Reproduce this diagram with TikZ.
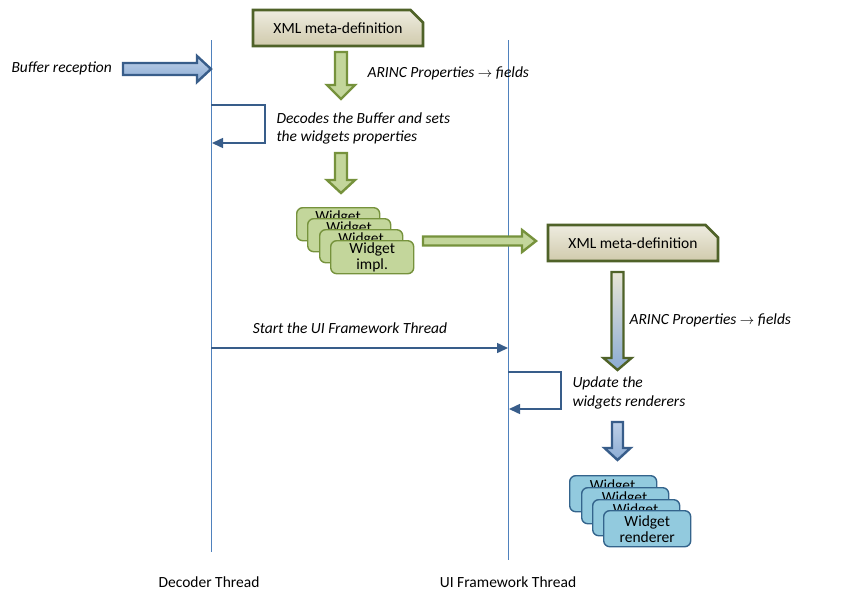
\documentclass[tikz,border=0pt]{standalone}
\usepackage{fontspec}
\setmainfont{Carlito}
\usetikzlibrary{arrows.meta,shapes.misc}
\definecolor{life}{RGB}{79,129,189}
\definecolor{dblue}{RGB}{56,93,138}
\definecolor{gfill}{RGB}{195,214,155}
\definecolor{gline}{RGB}{118,146,60}
\definecolor{xfillA}{RGB}{238,236,224}
\definecolor{xfillB}{RGB}{208,202,172}
\definecolor{xline}{RGB}{79,98,40}
\definecolor{bfillA}{RGB}{190,208,232}
\definecolor{bfillB}{RGB}{140,172,212}
\definecolor{rfill}{RGB}{146,202,222}
\definecolor{rline}{RGB}{52,100,140}
\newcommand\downblock[7]{\draw[#7] ({#1-#4},#2) -- ({#1+#4},#2) -- ({#1+#4},{#3-#6}) -- ({#1+#5},{#3-#6}) -- (#1,#3) -- ({#1-#5},{#3-#6}) -- ({#1-#4},{#3-#6}) -- cycle;}
\newcommand\rightblock[7]{\draw[#7] (#1,{#3-#4}) -- ({#2-#6},{#3-#4}) -- ({#2-#6},{#3-#5}) -- (#2,#3) -- ({#2-#6},{#3+#5}) -- ({#2-#6},{#3+#4}) -- (#1,{#3+#4}) -- cycle;}
\tikzset{
  every node/.style={font=\fontsize{15.5}{16}\selectfont},
  lifeline/.style={draw=life, line width=1pt},
  msg/.style={draw=dblue, line width=1.5pt, -{Triangle[length=11pt,width=10pt]}},
  lbl/.style={font=\fontsize{15.5}{16}\selectfont\itshape},
  xmlbox/.style={chamfered rectangle, chamfered rectangle corners=north east,
    chamfered rectangle xsep=7pt, chamfered rectangle ysep=7pt,
    draw=xline, line width=2.6pt, top color=xfillA, bottom color=xfillB,
    minimum width=170pt, minimum height=36pt, inner sep=0pt},
  garrow/.style={draw=gline, line width=2.4pt, fill=gfill, line join=miter},
  barrow/.style={draw=dblue, line width=2.4pt, top color=bfillA, bottom color=bfillB, line join=miter},
  mixarrow/.style={draw=xline, line width=2.4pt, top color=xfillA!80!xfillB, bottom color=bfillB, line join=miter},
  wbox/.style={draw=gline, line width=1.4pt, fill=gfill, rounded corners=6pt,
    minimum width=83pt, minimum height=33pt, anchor=north west, inner sep=0pt, align=center},
  rbox/.style={draw=rline, line width=1.4pt, fill=rfill, rounded corners=6pt,
    minimum width=87pt, minimum height=36pt, anchor=north west, inner sep=0pt, align=center},
}
\begin{document}
\begin{tikzpicture}[x=1pt,y=-1pt]
\useasboundingbox[fill=white] (0,0) rectangle (841,611);

% lifelines
\coordinate (d0) at (211,40);
\coordinate (d1) at (211,552);
\coordinate (u0) at (508,40);
\coordinate (u1) at (508,560);
\draw[lifeline] (d0) -- (d1);
\draw[lifeline] (u0) -- (u1);
\node (dlab) at (209,582) {Decoder Thread};
\node (ulab) at (508,582) {UI Framework Thread};

% top XML box
\node[xmlbox] (x1) at (338,28) {XML meta-definition};
\downblock{341}{52}{99}{6}{14}{14}{garrow}
\node[lbl, anchor=west] (ar1) at (364,73) {ARINC Properties $\rightarrow$ fields};

% buffer reception
\node[lbl, anchor=west] (buf) at (8,68) {Buffer reception};
\rightblock{123}{211}{69}{6}{13}{14}{barrow}

% self loop 1
\coordinate (l1a) at (211,105);
\coordinate (l1b) at (265,105);
\coordinate (l1c) at (265,143);
\coordinate (l1d) at (212,143);
\draw[msg] (l1a) -- (l1b) -- (l1c) -- (l1d);
\node[lbl, anchor=west] (dec1) at (273,118) {Decodes the Buffer and sets};
\node[lbl, anchor=west] (dec2) at (273,137) {the widgets properties};

\downblock{341}{153}{193}{6}{14}{13}{garrow}

% widget impl stack
\node[wbox] (w1) at (296,207) {};
\node (w1t) at (338,217) {Widget};
\node[wbox] (w2) at (307,218) {};
\node (w2t) at (349,228) {Widget};
\node[wbox] (w3) at (319,229) {};
\node (w3t) at (361,239) {Widget};
\node[wbox] (w4) at (330,240) {Widget\\impl.};

% green horizontal arrow
\rightblock{423}{536}{241}{4.5}{11}{14}{garrow}

% second XML box
\node[xmlbox] (x2) at (633,243) {XML meta-definition};
\downblock{617.5}{272}{370}{6}{14}{12}{mixarrow}
\node[lbl, anchor=west] (ar2) at (626,320) {ARINC Properties $\rightarrow$ fields};

% start thread
\coordinate (s0) at (211,348);
\coordinate (s1) at (508,348);
\draw[msg] (s0) -- (s1);
\node[lbl] (start) at (350,328) {Start the UI Framework Thread};

% self loop 2
\coordinate (l2a) at (508,372);
\coordinate (l2b) at (561,372);
\coordinate (l2c) at (561,409);
\coordinate (l2d) at (509,409);
\draw[msg] (l2a) -- (l2b) -- (l2c) -- (l2d);
\node[lbl, anchor=west] (up1) at (569,383) {Update the};
\node[lbl, anchor=west] (up2) at (569,402) {widgets renderers};

\downblock{617.5}{422}{460}{5.5}{13}{12}{barrow}

% renderer stack
\node[rbox] (r1) at (569,475) {};
\node (r1t) at (612.5,486) {Widget};
\node[rbox] (r2) at (581,487) {};
\node (r2t) at (624.5,498) {Widget};
\node[rbox] (r3) at (592,499) {};
\node (r3t) at (635.5,510) {Widget};
\node[rbox] (r4) at (603,510) {Widget\\renderer};
\end{tikzpicture}
\end{document}
